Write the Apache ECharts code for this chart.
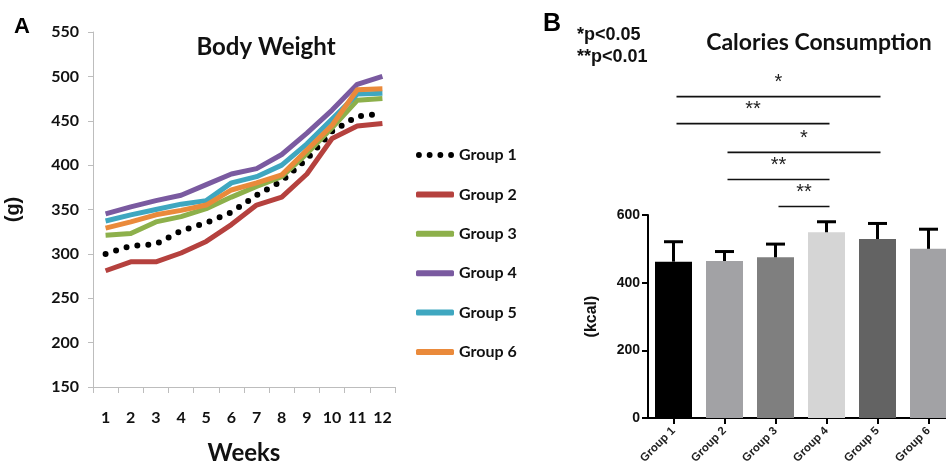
<!DOCTYPE html>
<html>
<head>
<meta charset="utf-8">
<script src="https://cdn.jsdelivr.net/npm/echarts@6/dist/echarts.min.js"></script>
<style>
  html, body { margin: 0; padding: 0; background: #fff; }
  #chart { width: 946px; height: 467px; }
</style>
</head>
<body>
<div id="chart"></div>
<script>
// panel A - body weight (g) per week
const weeks = ['1', '2', '3', '4', '5', '6', '7', '8', '9', '10', '11', '12'];
const groupNames = ['Group 1', 'Group 2', 'Group 3', 'Group 4', 'Group 5', 'Group 6'];
const group1Weight = [300, 309, 311, 326, 335, 347, 366, 382, 407, 438, 455, 458];
const group2Weight = [281, 291, 291, 301, 314, 333, 355, 364, 390, 430, 444, 447];
const group3Weight = [321, 323, 336, 342, 351, 364, 376, 387, 413, 442, 473, 475];
const group4Weight = [345, 353, 360, 366, 378, 390, 396, 412, 436, 462, 491, 500];
const group5Weight = [337, 344, 350, 356, 360, 380, 387, 400, 424, 452, 480, 481];
const group6Weight = [329, 336, 344, 349, 355, 372, 380, 389, 417, 445, 485, 486];
const weightMin = 150;
const weightMax = 550;
const weightStep = 50;

// panel B - calories consumption (kcal)
const calories = [462, 464, 475, 549, 529, 500];
const caloriesSd = [59, 28, 39, 31, 46, 58];
const kcalMin = 0;
const kcalMax = 600;
const kcalStep = 200;

// significance brackets (group index from / to, bracket height in kcal)
const sigFrom = [0, 0, 1, 1, 2];
const sigTo = [4, 3, 4, 3, 3];
const sigLevel = [950, 870, 785, 705, 625];
const sigLabel = ['*', '**', '*', '**', '**'];

const lineColors = ['#000000', '#b5413e', '#8db04b', '#7a5aa0', '#3fa7c0', '#ea8a3b'];
const barColors = ['#000000', '#a2a2a5', '#7f7f7f', '#d5d5d5', '#636363', '#a2a2a5'];
const weightData = [group1Weight, group2Weight, group3Weight, group4Weight, group5Weight, group6Weight];

const dotsIcon = 'path://M0 3a3 3 0 1 0 6 0a3 3 0 1 0 -6 0Z'
  + 'M11 3a3 3 0 1 0 6 0a3 3 0 1 0 -6 0Z'
  + 'M22 3a3 3 0 1 0 6 0a3 3 0 1 0 -6 0Z'
  + 'M33 3a3 3 0 1 0 6 0a3 3 0 1 0 -6 0Z';

const latoBold = { fontFamily: 'Lato', fontWeight: 'bold' };
const arialBold = { fontFamily: 'Liberation Sans', fontWeight: 'bold' };

const myChart = echarts.init(document.getElementById('chart'), null, { renderer: 'canvas' });

const lineSeries = weightData.map((v, i) => ({
  name: groupNames[i],
  type: 'line',
  xAxisIndex: 0,
  yAxisIndex: 0,
  symbol: 'none',
  smooth: false,
  color: lineColors[i],
  itemStyle: { color: lineColors[i] },
  lineStyle: i === 0
    ? { color: lineColors[i], width: 6, type: [0, 11], cap: 'round' }
    : { color: lineColors[i], width: 5, join: 'round' },
  data: v,
}));

const option = {
  animation: false,
  backgroundColor: '#fff',
  grid: [
    { left: 93, top: 32, width: 302, height: 355, outerBoundsMode: 'none' },
    { left: 648, top: 215, width: 306, height: 203, outerBoundsMode: 'none' },
  ],
  legend: {
    orient: 'vertical',
    left: 411,
    top: 140,
    itemWidth: 38,
    itemHeight: 6,
    itemGap: 19.4,
    icon: 'roundRect',
    itemStyle: { borderWidth: 0 },
    data: groupNames.map((n, i) => (i === 0 ? { name: n, icon: dotsIcon } : { name: n })),
    textStyle: { ...latoBold, fontSize: 16, color: '#111', lineHeight: 20 },
  },
  xAxis: [
    {
      gridIndex: 0,
      type: 'category',
      data: weeks,
      boundaryGap: true,
      name: 'Weeks',
      nameLocation: 'middle',
      nameGap: 54,
      nameTextStyle: { ...latoBold, fontSize: 24, color: '#111' },
      axisLine: { lineStyle: { color: '#bdbdbd', width: 1 } },
      axisTick: { show: true, length: 6, lineStyle: { color: '#bdbdbd' } },
      axisLabel: { ...latoBold, fontSize: 16, color: '#111', margin: 23 },
      splitLine: { show: false },
    },
    {
      gridIndex: 1,
      type: 'category',
      data: groupNames,
      axisLine: { lineStyle: { color: '#000', width: 2 } },
      axisTick: { show: true, alignWithLabel: true, length: 6, lineStyle: { color: '#000', width: 2 } },
      axisLabel: { ...arialBold, fontSize: 11.5, color: '#222', rotate: 45, interval: 0, margin: 11 },
    },
  ],
  yAxis: [
    {
      gridIndex: 0,
      type: 'value',
      min: weightMin,
      max: weightMax,
      interval: weightStep,
      name: '(g)',
      nameLocation: 'middle',
      nameGap: 70,
      nameTextStyle: { ...arialBold, fontSize: 20, color: '#111' },
      axisLine: { show: true, lineStyle: { color: '#bdbdbd', width: 1 } },
      axisTick: { show: true, length: 5, lineStyle: { color: '#bdbdbd' } },
      axisLabel: { ...latoBold, fontSize: 16, color: '#111', margin: 14 },
      splitLine: { show: false },
    },
    {
      gridIndex: 1,
      type: 'value',
      min: kcalMin,
      max: kcalMax,
      interval: kcalStep,
      name: '(kcal)',
      nameLocation: 'middle',
      nameGap: 48,
      nameTextStyle: { ...arialBold, fontSize: 16, color: '#111' },
      axisLine: { show: true, lineStyle: { color: '#000', width: 2 } },
      axisTick: { show: true, length: 6, lineStyle: { color: '#000', width: 2 } },
      axisLabel: { ...arialBold, fontSize: 14, color: '#111', margin: 8 },
      splitLine: { show: false },
    },
  ],
  series: [
    ...lineSeries,
    {
      name: 'Calories',
      type: 'bar',
      xAxisIndex: 1,
      yAxisIndex: 1,
      barWidth: 37,
      data: calories.map((v, i) => ({ value: v, itemStyle: { color: barColors[i] } })),
    },
    {
      name: 'SD',
      type: 'custom',
      xAxisIndex: 1,
      yAxisIndex: 1,
      z: 3,
      encode: { x: 0, y: [1, 2] },
      data: calories.map((v, i) => [i, v, v + caloriesSd[i]]),
      renderItem(params, api) {
        const bottom = api.coord([api.value(0), api.value(1)]);
        const top = api.coord([api.value(0), api.value(2)]);
        const cap = 9.5;
        return {
          type: 'group',
          children: [
            { type: 'line', shape: { x1: bottom[0], y1: bottom[1], x2: top[0], y2: top[1] }, style: { stroke: '#000', lineWidth: 3 } },
            { type: 'line', shape: { x1: top[0] - cap, y1: top[1], x2: top[0] + cap, y2: top[1] }, style: { stroke: '#000', lineWidth: 3 } },
          ],
        };
      },
    },
    {
      name: 'Significance',
      type: 'custom',
      xAxisIndex: 1,
      yAxisIndex: 1,
      clip: false,
      silent: true,
      encode: { x: [0, 1], y: 2 },
      data: sigFrom.map((f, i) => [f, sigTo[i], sigLevel[i]]),
      renderItem(params, api) {
        const a = api.coord([api.value(0), api.value(2)]);
        const b = api.coord([api.value(1), api.value(2)]);
        return {
          type: 'group',
          children: [
            { type: 'line', shape: { x1: a[0] + 3, y1: a[1], x2: b[0] + 3, y2: b[1] }, style: { stroke: '#111', lineWidth: 1.6 } },
            {
              type: 'text',
              x: (a[0] + b[0]) / 2 + 3,
              y: a[1] - 4,
              style: {
                text: sigLabel[params.dataIndex],
                textAlign: 'center',
                textVerticalAlign: 'bottom',
                font: '20px "Liberation Sans"',
                fill: '#222',
              },
            },
          ],
        };
      },
    },
  ],
  graphic: [
    { type: 'text', left: 14, top: 16, style: { text: 'A', font: 'bold 22px "Liberation Sans"', fill: '#000' } },
    { type: 'text', x: 266, y: 47, style: { text: 'Body Weight', font: 'bold 24px Lato', fill: '#111', textAlign: 'center', textVerticalAlign: 'middle' } },
    { type: 'text', left: 543, top: 12, style: { text: 'B', font: 'bold 25px "Liberation Sans"', fill: '#000' } },
    { type: 'text', x: 577, y: 35, style: { text: '*p<0.05', font: 'bold 18px "Liberation Sans"', fill: '#111', textVerticalAlign: 'middle' } },
    { type: 'text', x: 577, y: 57, style: { text: '**p<0.01', font: 'bold 18px "Liberation Sans"', fill: '#111', textVerticalAlign: 'middle' } },
    { type: 'text', x: 819, y: 43, style: { text: 'Calories Consumption', font: 'bold 23px Lato', fill: '#111', textAlign: 'center', textVerticalAlign: 'middle' } },
  ],
};

myChart.setOption(option);
</script>
</body>
</html>
